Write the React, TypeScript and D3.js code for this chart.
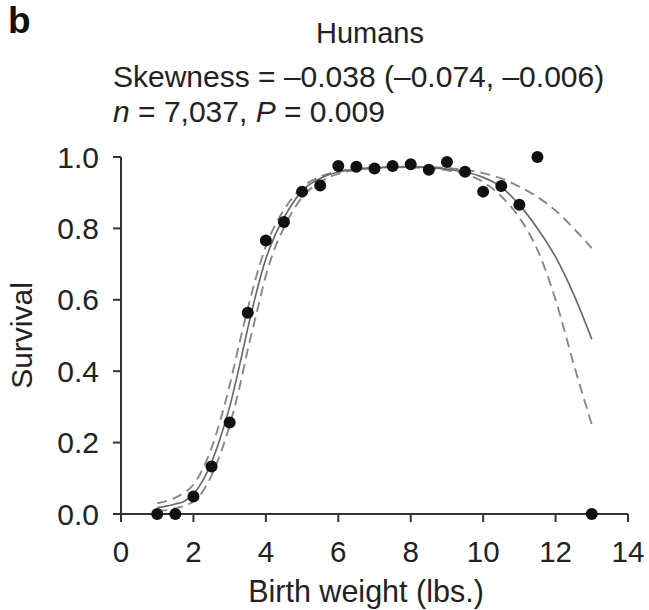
import React from "react";
import * as d3 from "d3";

const pointX = [1, 1.5, 2, 2.5, 3, 3.5, 4, 4.5, 5, 5.5, 6, 6.5, 7, 7.5, 8, 8.5, 9, 9.5, 10, 10.5, 11, 11.5, 13];
const pointY = [0, 0, 0.049, 0.133, 0.256, 0.564, 0.766, 0.818, 0.903, 0.92, 0.975, 0.973, 0.968, 0.975, 0.98, 0.964, 0.986, 0.959, 0.903, 0.919, 0.866, 1.0, 0];

const curveX = [1, 1.25, 1.5, 1.75, 2, 2.25, 2.5, 2.75, 3, 3.25, 3.5, 3.75, 4, 4.25, 4.5, 4.75, 5, 5.5, 6, 6.5, 7, 7.5, 8, 8.5, 9, 9.5, 10, 10.5, 11, 11.5, 12, 12.5, 13];
const fitY = [0.018, 0.022, 0.028, 0.036, 0.056, 0.092, 0.145, 0.215, 0.3, 0.405, 0.52, 0.625, 0.715, 0.78, 0.83, 0.872, 0.905, 0.94, 0.958, 0.966, 0.97, 0.972, 0.972, 0.97, 0.966, 0.958, 0.943, 0.916, 0.866, 0.8, 0.72, 0.615, 0.49];
const upperY = [0.03, 0.036, 0.046, 0.06, 0.082, 0.125, 0.185, 0.265, 0.36, 0.47, 0.575, 0.67, 0.75, 0.808, 0.852, 0.888, 0.915, 0.945, 0.96, 0.967, 0.971, 0.973, 0.973, 0.972, 0.969, 0.964, 0.955, 0.94, 0.917, 0.888, 0.85, 0.8, 0.745];
const lowerY = [0.008, 0.011, 0.016, 0.023, 0.035, 0.062, 0.108, 0.17, 0.248, 0.345, 0.46, 0.565, 0.668, 0.745, 0.802, 0.85, 0.887, 0.93, 0.953, 0.964, 0.969, 0.971, 0.971, 0.968, 0.963, 0.952, 0.93, 0.89, 0.83, 0.74, 0.6, 0.42, 0.25];

const xTicks = [0, 2, 4, 6, 8, 10, 12, 14];
const yTicks = [0, 0.2, 0.4, 0.6, 0.8, 1.0];

const panelLabel = "b";
const title = "Humans";
const xLabel = "Birth weight (lbs.)";
const yLabel = "Survival";

const W = 649;
const H = 610;
const FONT = "'Liberation Sans', Arial, Helvetica, sans-serif";

export default function App() {
  const x = d3.scaleLinear().domain([0, 14]).range([121, 628]);
  const y = d3.scaleLinear().domain([0, 1]).range([514, 157]);

  const line = d3
    .line<[number, number]>()
    .x((d) => x(d[0]))
    .y((d) => y(d[1]))
    .curve(d3.curveMonotoneX);

  const mk = (ys: number[]) => curveX.map((cx, i) => [cx, ys[i]] as [number, number]);

  const axisColor = "#333";
  const fs = 29.5;

  return (
    <svg
      width={W}
      height={H}
      style={{ position: "absolute", left: 0, top: 0, background: "#fff" }}
      fontFamily={FONT}
    >
      <rect x={0} y={0} width={W} height={H} fill="#fff" />
      <text x={8} y={33} fontSize={37} fontWeight="bold" fill="#111">
        {panelLabel}
      </text>
      <text x={370} y={43} fontSize={29} textAnchor="middle" fill="#222">
        {title}
      </text>
      <text x={113} y={87} fontSize={30} fill="#222">
        Skewness = –0.038 (–0.074, –0.006)
      </text>
      <text x={113} y={122} fontSize={30} fill="#222">
        <tspan fontStyle="italic">n</tspan>
        <tspan> = 7,037, </tspan>
        <tspan fontStyle="italic">P</tspan>
        <tspan> = 0.009</tspan>
      </text>

      {/* curves */}
      <path d={line(mk(upperY)) || ""} fill="none" stroke="#888" strokeWidth={1.9} strokeDasharray="10,6" />
      <path d={line(mk(lowerY)) || ""} fill="none" stroke="#888" strokeWidth={1.9} strokeDasharray="10,6" />
      <path d={line(mk(fitY)) || ""} fill="none" stroke="#6a6a6a" strokeWidth={1.7} />

      {/* axes */}
      <line x1={x(0)} x2={x(14)} y1={y(0)} y2={y(0)} stroke={axisColor} strokeWidth={2} />
      <line x1={x(0)} x2={x(0)} y1={y(0)} y2={y(1)} stroke={axisColor} strokeWidth={2} />
      {xTicks.map((t) => (
        <g key={"xt" + t}>
          <line x1={x(t)} x2={x(t)} y1={y(0)} y2={y(0) + 8} stroke={axisColor} strokeWidth={2} />
          <text x={x(t)} y={562} fontSize={fs} textAnchor="middle" fill="#222">
            {t}
          </text>
        </g>
      ))}
      {yTicks.map((t) => (
        <g key={"yt" + t}>
          <line x1={x(0) - 8} x2={x(0)} y1={y(t)} y2={y(t)} stroke={axisColor} strokeWidth={2} />
          <text x={99} y={y(t) + 10.5} fontSize={30} textAnchor="end" fill="#222">
            {t.toFixed(1)}
          </text>
        </g>
      ))}
      <text x={366} y={602} fontSize={30.5} textAnchor="middle" fill="#222">
        {xLabel}
      </text>
      <text
        transform={`translate(32, ${y(0.5)}) rotate(-90)`}
        fontSize={30}
        textAnchor="middle"
        fill="#222"
      >
        {yLabel}
      </text>

      {/* points */}
      {pointX.map((px, i) => (
        <circle key={"p" + i} cx={x(px)} cy={y(pointY[i])} r={6} fill="#111" />
      ))}
    </svg>
  );
}
